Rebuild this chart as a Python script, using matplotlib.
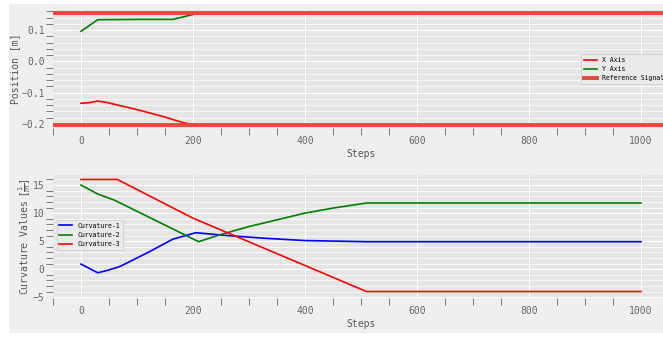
import numpy as np
import matplotlib
matplotlib.use("Agg")
import matplotlib.pyplot as plt
from matplotlib.patches import Rectangle
from matplotlib.ticker import MultipleLocator, AutoMinorLocator

plt.style.use("ggplot")
plt.rcParams["font.family"] = ["DejaVu Sans Mono"]

# position data
pos_x_steps = [0, 15, 30, 45, 64, 95, 123, 150, 164, 185, 205, 230, 1000]
pos_x_vals = [-0.134, -0.132, -0.127, -0.131, -0.139, -0.152, -0.165, -0.178, -0.186, -0.197, -0.203, -0.205, -0.205]
pos_y_steps = [0, 30, 100, 164, 185, 205, 1000]
pos_y_vals = [0.096, 0.133, 0.134, 0.134, 0.143, 0.152, 0.152]
ref_upper = 0.155
ref_lower = -0.205

# curvature data
curv_steps_1 = [0, 30, 48, 70, 120, 164, 205, 260, 330, 400, 510, 1000]
curv_vals_1 = [0.9, -0.65, -0.2, 0.5, 3.0, 5.35, 6.5, 6.0, 5.5, 5.1, 4.9, 4.9]
curv_steps_2 = [0, 30, 60, 210, 250, 300, 350, 400, 450, 510, 1000]
curv_vals_2 = [15.0, 13.4, 12.3, 4.9, 6.2, 7.6, 8.8, 10.0, 10.9, 11.8, 11.8]
curv_steps_3 = [0, 65, 200, 510, 1000]
curv_vals_3 = [16.0, 16.0, 9.1, -4.0, -4.0]

W, H = 663, 337
L, R = 53, 669  # axes left/right in pixels (right runs off the canvas)
fig = plt.figure(figsize=(W / 100, H / 100), dpi=100, facecolor="white")
fig.patches.append(Rectangle((9 / W, 4 / H), 1, 329 / H, transform=fig.transFigure,
                             facecolor="#efefef", edgecolor="none", zorder=-10))

ax1 = fig.add_axes([L / W, 1 - 128 / H, (R - L) / W, 118 / H])
ax2 = fig.add_axes([L / W, 1 - 298 / H, (R - L) / W, 123 / H])

ax1.plot(pos_x_steps, pos_x_vals, color="red", lw=1.2, label="X Axis")
ax1.plot(pos_y_steps, pos_y_vals, color="green", lw=1.2, label="Y Axis")
ax1.axhline(ref_upper, color="#e8473b", lw=2.8, label="Reference Signal")
ax1.axhline(ref_lower, color="#e8473b", lw=2.8)
ax1.set_ylim(-0.213, 0.164)
ax1.set_ylabel("Position [m]")
ax1.yaxis.set_label_coords(-0.054, 0.5)
ax1.legend(loc="upper left", fontsize=4.7, facecolor="#eaeaea", framealpha=1,
           bbox_to_anchor=(0.857, 0.625), borderaxespad=0)

ax2.plot(curv_steps_1, curv_vals_1, color="blue", lw=1.2, label="Curvature-1")
ax2.plot(curv_steps_2, curv_vals_2, color="green", lw=1.2, label="Curvature-2")
ax2.plot(curv_steps_3, curv_vals_3, color="red", lw=1.2, label="Curvature-3")
ax2.set_ylim(-5.15, 16.8)
ax2.set_ylabel(r"Curvature Values $[\frac{1}{m}]$")
ax2.yaxis.set_label_coords(-0.032, 0.5)
ax2.yaxis.set_major_locator(MultipleLocator(5))
ax2.legend(loc="center left", fontsize=4.7, facecolor="#eaeaea", framealpha=1,
           bbox_to_anchor=(0.006, 0.512), borderaxespad=0)

for ax in (ax1, ax2):
    ax.set_facecolor("#e5e5e5")
    ax.set_xlim(-50, 1050)
    ax.xaxis.set_major_locator(MultipleLocator(200))
    ax.xaxis.set_minor_locator(MultipleLocator(50))
    ax.yaxis.set_minor_locator(AutoMinorLocator(5))
    ax.grid(which="major", color="white", lw=0.8)
    ax.grid(which="minor", axis="y", color="white", lw=0.5)
    ax.tick_params(which="both", direction="out", colors="#666666", labelsize=7)
    ax.tick_params(which="minor", length=5)
    ax.tick_params(which="major", length=0, pad=6)
    ax.tick_params(axis="x", which="major", pad=6)
    ax.set_xlabel("Steps", fontsize=7, color="#555555", labelpad=2)
    ax.yaxis.label.set_color("#555555")
    ax.yaxis.label.set_size(7)
    for s in ax.spines.values():
        s.set_visible(False)

fig.savefig("out.png", dpi=100, facecolor=fig.get_facecolor())
